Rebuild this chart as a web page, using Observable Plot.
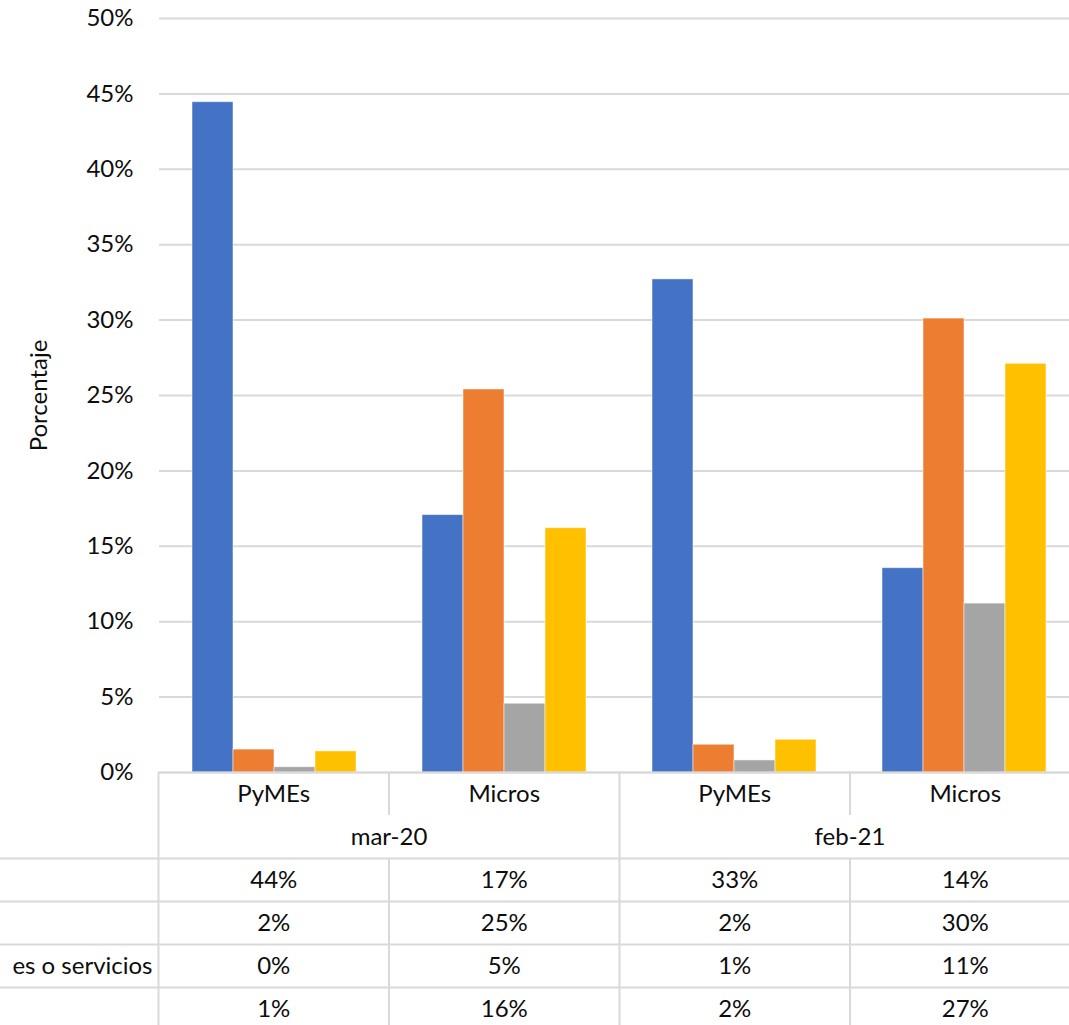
<!DOCTYPE html>
<html>
<head>
<meta charset="utf-8">
<script src="https://cdn.jsdelivr.net/npm/d3@7"></script>
<script src="https://cdn.jsdelivr.net/npm/@observablehq/plot@0.6"></script>
<style>
  html, body { margin: 0; padding: 0; background: #fff; }
  #wrap { width: 1069px; height: 1025px; overflow: hidden; position: relative; }
  #wrap svg { display: block; max-width: none !important; }
</style>
</head>
<body>
<div id="wrap"></div>
<script>
// ---- data ----
const categories = ["PyMEs", "Micros", "PyMEs", "Micros"];
const periods = ["mar-20", "feb-21"];
const seriesKeys = ["s1", "s2", "s3", "s4"];
const rowLabels = ["", "", "es o servicios", ""];
const s1 = [44.45, 17.07, 32.7, 13.55];
const s2 = [1.52, 25.4, 1.84, 30.1];
const s3 = [0.35, 4.56, 0.8, 11.2];
const s4 = [1.4, 16.2, 2.17, 27.1];
const yTicks = [0, 5, 10, 15, 20, 25, 30, 35, 40, 45, 50];
const colors = ["#4472C4", "#ED7D31", "#A5A5A5", "#FFC000"];

const seriesValues = [s1, s2, s3, s4];
const catKeys = categories.map((c, i) => String(i));
const bars = [];
seriesValues.forEach((vals, si) => vals.forEach((v, ci) => bars.push({cat: catKeys[ci], series: seriesKeys[si], value: v})));

const textColor = "#0d0d0d";
const gridColor = "#d9d9d9";
const font = "Lato, 'Open Sans', sans-serif";
const fontSize = "24px";

const chart = Plot.plot({
  width: 1080,
  height: 772,
  marginLeft: 158,
  marginRight: 0,
  marginTop: 18,
  marginBottom: 0,
  style: {fontFamily: font, fontSize, color: textColor, background: "transparent", overflow: "visible", maxWidth: "none"},
  fx: {domain: catKeys, padding: 0, axis: null},
  x: {domain: seriesKeys, paddingInner: 0, paddingOuter: 0.744, axis: null},
  y: {domain: [0, 50], ticks: yTicks, tickFormat: d => d + "%", tickSize: 0, tickPadding: 26,
      label: "Porcentaje", labelAnchor: "center", labelOffset: 130, labelArrow: "none"},
  color: {domain: seriesKeys, range: colors},
  marks: [
    Plot.ruleY(yTicks, {y: d => d, stroke: gridColor, strokeWidth: 2}),
    Plot.barY(bars, {fx: "cat", x: "series", y: "value", fill: "series", stroke: "#ffffff", strokeOpacity: 0.5, strokeWidth: 1})
  ]
});

// ---- data table ----
const cells = [];
seriesValues.forEach((vals, si) => vals.forEach((v, ci) => cells.push({col: ci + 0.5, row: 2.5 + si, label: Math.round(v) + "%"})));
const catCells = categories.map((c, i) => ({col: i + 0.5, row: 0.5, label: c}));
const periodCells = periods.map((p, j) => ({col: 2 * j + 1, row: 1.5, label: p}));
const labelCells = rowLabels.map((l, i) => ({col: 0, row: 2.5 + i, label: l})).filter(d => d.label);

const nCols = categories.length;
const nRows = 2 + seriesKeys.length;
const hLines = [{y: 0, x1: 0, x2: nCols}];
for (let r = 2; r <= nRows; r++) hLines.push({y: r, x1: -3, x2: nCols});
const vLines = [];
for (let c = 0; c <= nCols; c++) {
  if (c % 2 === 0) vLines.push({x: c, y1: 0, y2: nRows});
  else { vLines.push({x: c, y1: 0, y2: 1}); vLines.push({x: c, y1: 2, y2: nRows}); }
}

const table = Plot.plot({
  width: 1080,
  height: 253,
  marginLeft: 158,
  marginRight: 0,
  marginTop: 0,
  marginBottom: 0,
  style: {fontFamily: font, fontSize, color: textColor, background: "transparent", overflow: "visible", maxWidth: "none"},
  x: {domain: [0, nCols], axis: null},
  y: {domain: [0, nRows], range: [0, 43 * nRows], axis: null},
  marks: [
    Plot.ruleY(hLines, {y: "y", x1: "x1", x2: "x2", stroke: gridColor, strokeWidth: 2}),
    Plot.ruleX(vLines, {x: "x", y1: "y1", y2: "y2", stroke: gridColor, strokeWidth: 2}),
    Plot.text(catCells, {x: "col", y: "row", text: "label", fill: textColor}),
    Plot.text(periodCells, {x: "col", y: "row", text: "label", fill: textColor}),
    Plot.text(cells, {x: "col", y: "row", text: "label", fill: textColor}),
    Plot.text(labelCells, {x: "col", y: "row", text: "label", textAnchor: "end", dx: -6, fill: textColor})
  ]
});

const wrap = document.getElementById("wrap");
wrap.appendChild(chart);
wrap.appendChild(table);
</script>
</body>
</html>
